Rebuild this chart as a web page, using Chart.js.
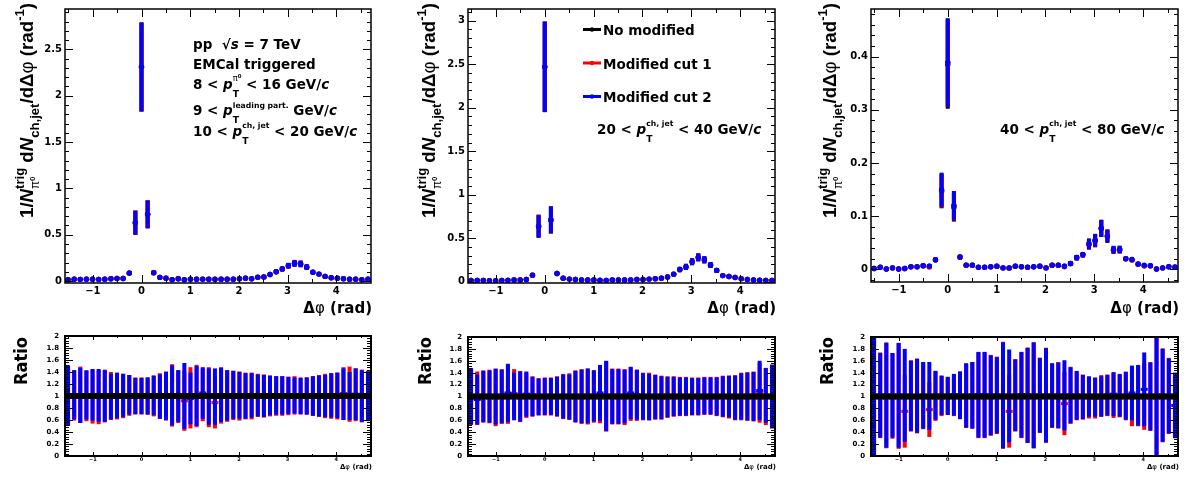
<!DOCTYPE html>
<html>
<head>
<meta charset="utf-8">
<script src="https://cdn.jsdelivr.net/npm/chart.js@4.4.0/dist/chart.umd.min.js"></script>
<style>
  html, body { margin: 0; padding: 0; background: #fff; }
  body { width: 1192px; height: 478px; position: relative; overflow: hidden; }
  canvas { position: absolute; }
</style>
</head>
<body>
<canvas id="t1"></canvas>
<canvas id="t2"></canvas>
<canvas id="t3"></canvas>
<canvas id="r1"></canvas>
<canvas id="r2"></canvas>
<canvas id="r3"></canvas>
<script>
// bin centres in delta phi (rad), 50 bins from -pi/2 to 3pi/2
const phi = [-1.508,-1.382,-1.257,-1.131,-1.005,-0.880,-0.754,-0.628,-0.503,-0.377,-0.251,-0.126,0.000,0.126,0.251,0.377,0.503,0.628,0.754,0.880,1.005,1.131,1.257,1.382,1.508,1.634,1.759,1.885,2.011,2.136,2.262,2.388,2.513,2.639,2.765,2.890,3.016,3.142,3.267,3.393,3.519,3.644,3.770,3.896,4.021,4.147,4.273,4.398,4.524,4.650];
const binHalf = 0.0628;

// tick labels
const xTicks = [-1, 0, 1, 2, 3, 4];
const yTicksTop1 = [0, 0.5, 1, 1.5, 2, 2.5];
const yTicksTop2 = [0, 0.5, 1, 1.5, 2, 2.5, 3];
const yTicksTop3 = [0, 0.1, 0.2, 0.3, 0.4];
const yTicksRatio = [0, 0.2, 0.4, 0.6, 0.8, 1, 1.2, 1.4, 1.6, 1.8, 2];

// 10 < pT jet < 20 : no modified (nominal) and stat errors
const nomP1 = [0.015,0.02,0.018,0.02,0.02,0.018,0.02,0.025,0.028,0.028,0.085,0.63,2.31,0.72,0.09,0.04,0.03,0.015,0.025,0.015,0.02,0.02,0.02,0.02,0.02,0.02,0.02,0.02,0.025,0.03,0.025,0.04,0.045,0.07,0.10,0.13,0.165,0.19,0.185,0.15,0.095,0.075,0.05,0.035,0.03,0.025,0.02,0.02,0.015,0.02];
const errP1 = [0.005,0.006,0.006,0.006,0.006,0.006,0.006,0.007,0.008,0.008,0.02,0.13,0.48,0.15,0.02,0.01,0.008,0.005,0.007,0.005,0.006,0.007,0.007,0.007,0.007,0.007,0.006,0.006,0.007,0.008,0.007,0.01,0.011,0.015,0.02,0.025,0.03,0.036,0.035,0.03,0.02,0.017,0.012,0.009,0.008,0.007,0.006,0.006,0.005,0.006];
// 20 < pT jet < 40
const nomP2 = [0.015,0.015,0.015,0.012,0.012,0.015,0.015,0.02,0.02,0.025,0.075,0.64,2.47,0.71,0.095,0.04,0.03,0.025,0.02,0.02,0.02,0.015,0.015,0.02,0.02,0.02,0.02,0.025,0.025,0.03,0.035,0.04,0.055,0.085,0.14,0.17,0.23,0.28,0.25,0.19,0.13,0.07,0.06,0.05,0.035,0.025,0.02,0.015,0.015,0.015];
const errP2 = [0.004,0.004,0.004,0.004,0.004,0.004,0.004,0.005,0.005,0.006,0.018,0.13,0.52,0.155,0.02,0.01,0.008,0.007,0.006,0.006,0.006,0.005,0.005,0.006,0.006,0.006,0.006,0.007,0.007,0.008,0.009,0.01,0.013,0.02,0.03,0.035,0.04,0.045,0.04,0.032,0.025,0.015,0.013,0.011,0.008,0.006,0.005,0.004,0.004,0.004];
// 40 < pT jet < 80
const nomP3 = [0.002,0.004,0.001,0.003,0.001,0.002,0.005,0.005,0.007,0.006,0.018,0.147,0.385,0.117,0.023,0.008,0.008,0.004,0.004,0.005,0.006,0.003,0.003,0.006,0.005,0.004,0.005,0.006,0.003,0.008,0.008,0.006,0.011,0.022,0.028,0.048,0.055,0.077,0.062,0.036,0.037,0.02,0.018,0.01,0.007,0.007,0.001,0.003,0.005,0.005];
const errP3 = [0.001,0.002,0.001,0.002,0.001,0.001,0.002,0.002,0.003,0.003,0.004,0.032,0.083,0.027,0.004,0.003,0.003,0.002,0.002,0.002,0.002,0.002,0.002,0.002,0.002,0.002,0.002,0.002,0.002,0.003,0.003,0.002,0.004,0.005,0.005,0.01,0.012,0.016,0.012,0.007,0.007,0.004,0.004,0.003,0.002,0.002,0.001,0.002,0.002,0.002];

// ratios to "No modified": cut 1 (red) and cut 2 (blue), value and error
const ratioNominal = [1,1,1,1,1,1,1,1,1,1,1,1,1,1,1,1,1,1,1,1,1,1,1,1,1,1,1,1,1,1,1,1,1,1,1,1,1,1,1,1,1,1,1,1,1,1,1,1,1,1];

const cut1P1 = [1.00,1.01,1.02,1.00,0.99,0.98,1.00,1.00,0.99,1.00,1.01,1.00,1.00,1.00,1.00,1.00,1.00,1.01,0.99,0.92,0.97,1.00,1.02,0.98,0.89,1.01,1.00,1.01,1.00,1.00,1.00,1.01,1.00,1.00,1.00,1.00,1.00,1.01,1.00,1.00,1.00,1.00,1.00,1.00,1.00,1.04,1.03,1.02,1.00,1.00];
const cut1ErrP1 = [0.50,0.42,0.47,0.42,0.45,0.45,0.44,0.40,0.38,0.37,0.34,0.31,0.31,0.31,0.34,0.38,0.41,0.52,0.44,0.50,0.51,0.52,0.44,0.50,0.43,0.47,0.43,0.41,0.41,0.39,0.39,0.36,0.36,0.34,0.33,0.33,0.32,0.32,0.31,0.31,0.33,0.35,0.37,0.38,0.39,0.44,0.46,0.44,0.44,0.42];
const cut2P1 = [1.01,1.02,1.01,1.02,1.02,1.01,1.00,0.99,1.01,1.01,1.02,1.00,1.00,1.00,1.01,0.99,1.00,1.01,1.00,1.00,0.96,1.00,1.05,0.99,0.99,1.02,1.01,1.02,1.01,1.00,1.01,1.01,1.00,1.01,1.01,1.01,1.01,1.01,1.00,1.00,1.00,1.00,1.00,1.01,1.01,1.03,1.00,1.03,1.00,1.00];
const cut2ErrP1 = [0.50,0.41,0.46,0.41,0.43,0.44,0.43,0.38,0.38,0.36,0.33,0.30,0.30,0.31,0.33,0.37,0.40,0.50,0.43,0.55,0.43,0.50,0.43,0.47,0.47,0.45,0.42,0.40,0.39,0.38,0.37,0.35,0.35,0.33,0.32,0.32,0.31,0.30,0.30,0.31,0.33,0.34,0.35,0.37,0.38,0.43,0.40,0.43,0.43,0.41];

const cut1P2 = [1.00,0.97,1.00,1.00,0.98,1.00,1.03,1.05,1.00,1.02,1.00,1.00,1.00,1.00,1.00,1.00,1.00,1.00,1.00,1.00,1.00,1.03,1.00,1.00,1.00,0.99,1.04,1.02,1.00,1.00,0.99,0.98,0.99,1.00,1.00,1.00,1.00,1.00,1.01,1.01,1.00,1.00,0.99,0.98,1.00,1.00,1.00,1.06,1.00,1.00];
const cut1ErrP2 = [0.48,0.45,0.44,0.45,0.48,0.46,0.49,0.41,0.43,0.38,0.34,0.31,0.32,0.32,0.34,0.38,0.39,0.44,0.46,0.47,0.44,0.48,0.59,0.47,0.47,0.47,0.45,0.43,0.40,0.40,0.38,0.37,0.35,0.34,0.33,0.33,0.32,0.32,0.32,0.32,0.33,0.35,0.36,0.38,0.40,0.41,0.42,0.50,0.48,0.54];
const cut2P2 = [1.00,0.95,1.00,1.00,1.00,1.00,1.06,1.00,1.00,1.04,1.00,0.99,1.00,1.00,1.00,1.00,0.99,1.00,1.00,1.01,1.01,1.06,1.01,1.00,1.00,1.00,1.06,1.03,1.00,0.99,0.99,0.98,0.99,1.00,1.00,1.00,1.00,1.00,1.01,1.01,1.00,1.00,1.00,0.98,1.00,1.00,1.00,1.10,1.02,1.00];
const cut2ErrP2 = [0.47,0.42,0.43,0.44,0.47,0.45,0.49,0.40,0.42,0.38,0.33,0.31,0.31,0.31,0.33,0.37,0.38,0.43,0.45,0.46,0.43,0.47,0.59,0.46,0.46,0.45,0.44,0.42,0.39,0.39,0.37,0.36,0.34,0.33,0.32,0.32,0.31,0.31,0.31,0.31,0.32,0.34,0.35,0.37,0.39,0.40,0.41,0.50,0.46,0.53];

const cut1P3 = [1.00,1.02,1.02,1.01,1.01,0.75,1.01,1.01,1.01,0.78,1.01,1.01,1.01,1.02,1.02,1.01,1.02,1.02,1.02,1.02,1.02,1.02,0.75,1.02,1.02,1.02,1.02,1.02,1.02,1.01,1.02,0.88,1.02,1.01,0.99,0.98,0.97,1.01,1.02,1.02,1.01,1.01,1.00,1.01,1.00,1.00,1.00,1.02,1.01,0.85];
const cut1ErrP3 = [1.15,0.72,0.89,0.72,0.89,0.61,0.60,0.63,0.56,0.46,0.42,0.34,0.32,0.35,0.40,0.54,0.56,0.72,0.72,0.68,0.65,0.90,0.61,0.61,0.72,0.80,0.89,0.63,0.80,0.54,0.56,0.53,0.48,0.41,0.38,0.35,0.34,0.35,0.35,0.38,0.36,0.41,0.50,0.51,0.56,0.58,1.20,0.79,0.64,0.55];
const cut2P3 = [1.00,1.02,1.02,1.02,1.02,1.02,1.01,1.01,1.02,1.01,1.02,1.02,1.01,1.03,1.02,1.02,1.02,1.03,1.03,1.02,1.02,1.02,1.01,1.02,1.03,1.02,1.02,1.02,1.02,1.02,1.02,1.02,1.02,1.02,0.99,1.00,0.99,1.00,1.02,1.04,1.02,1.01,1.06,1.02,1.12,1.00,1.00,1.02,1.01,0.85];
const cut2ErrP3 = [1.15,0.71,0.88,0.71,0.88,0.78,0.59,0.62,0.56,0.57,0.41,0.33,0.32,0.35,0.40,0.54,0.56,0.72,0.72,0.67,0.64,0.89,0.78,0.60,0.72,0.80,0.89,0.63,0.79,0.54,0.55,0.59,0.47,0.41,0.37,0.34,0.33,0.34,0.34,0.37,0.36,0.40,0.46,0.51,0.62,0.57,1.20,0.78,0.63,0.55];

const seriesNames = ['No modified', 'Modified cut 1', 'Modified cut 2'];

const BLUE = '#0000ff', RED = '#ff0000', BLACK = '#000000';
const FAM = 'DejaVu Sans';

function fmt(v) { return String(+v.toFixed(2)).replace('-', '\u2212'); }

function steps(step, min, max) {
  const out = [];
  for (let k = Math.ceil(min / step - 1e-9); k * step <= max + 1e-9; k++) out.push(k * step);
  return out;
}

// rich text: runs of {t, k (size factor), dy (em), it, nb (not bold), f}, or {stack:[run, run]}
function drawRun(ctx, run, x, y, base, fam, draw) {
  let cx = x;
  for (const s of run) {
    if (s.stack) {
      let w = 0;
      for (const r of s.stack) w = Math.max(w, drawRun(ctx, r, cx, y, base, fam, draw));
      cx += w;
      continue;
    }
    const size = base * (s.k || 1);
    ctx.font = (s.it ? 'italic ' : '') + (s.nb ? '' : 'bold ') + size + 'px "' + (s.f || fam) + '"';
    if (draw) ctx.fillText(s.t, cx, y + base * (s.dy || 0));
    cx += ctx.measureText(s.t).width;
  }
  return cx - x;
}

// error bars, drawn just under each dataset's markers
const errorBars = {
  id: 'errorBars',
  beforeDatasetDraw(chart, args) {
    const ds = chart.data.datasets[args.index];
    const { ctx, chartArea: a, scales: { x, y } } = chart;
    ctx.save();
    ctx.beginPath();
    ctx.rect(a.left, a.top, a.right - a.left, a.bottom - a.top);
    ctx.clip();
    ctx.strokeStyle = ds.barColor;
    ds.data.forEach((pt, i) => {
      const px = x.getPixelForValue(pt.x);
      if (ds.yErr) {
        ctx.lineWidth = ds.barWidth;
        ctx.beginPath();
        ctx.moveTo(px, y.getPixelForValue(pt.y - ds.yErr[i]));
        ctx.lineTo(px, y.getPixelForValue(pt.y + ds.yErr[i]));
        ctx.stroke();
      }
      if (ds.xHalf) {
        ctx.lineWidth = ds.bandWidth;
        ctx.beginPath();
        ctx.moveTo(x.getPixelForValue(pt.x - ds.xHalf) - 0.5, y.getPixelForValue(pt.y));
        ctx.lineTo(x.getPixelForValue(pt.x + ds.xHalf) + 0.5, y.getPixelForValue(pt.y));
        ctx.stroke();
      }
    });
    ctx.restore();
  }
};

// ROOT-like frame with inward ticks on all four sides
function framePlugin(o) {
  return {
    id: 'rootFrame',
    afterDatasetsDraw(chart) {
      const { ctx, chartArea: a, scales: { x, y } } = chart;
      ctx.save();
      ctx.strokeStyle = '#000';
      ctx.lineWidth = o.lw;
      ctx.strokeRect(a.left, a.top, a.right - a.left, a.bottom - a.top);
      ctx.lineWidth = 1;
      ctx.beginPath();
      const xs = steps(o.xMinor, x.min, x.max).map(v => [v, xTicks.some(t => Math.abs(t - v) < 1e-6) ? o.xMajLen : o.xMinLen]);
      xs.forEach(([v, len]) => {
        const px = Math.round(x.getPixelForValue(v)) + 0.5;
        ctx.moveTo(px, a.bottom); ctx.lineTo(px, a.bottom - len);
        ctx.moveTo(px, a.top); ctx.lineTo(px, a.top + len);
      });
      const ys = steps(o.yMinor, y.min, y.max).map(v => [v, o.yMaj.some(t => Math.abs(t - v) < 1e-6) ? o.yMajLen : o.yMinLen]);
      ys.forEach(([v, len]) => {
        const py = Math.round(y.getPixelForValue(v)) + 0.5;
        ctx.moveTo(a.left, py); ctx.lineTo(a.left + len, py);
        ctx.moveTo(a.right, py); ctx.lineTo(a.right - len, py);
      });
      ctx.stroke();
      ctx.restore();
    }
  };
}

function decorPlugin(p) {
  return {
    id: 'decor',
    afterDraw(chart) {
      const ctx = chart.ctx;
      ctx.save();
      ctx.translate(-p.cx, -p.cy);
      ctx.fillStyle = '#000';
      ctx.textBaseline = 'alphabetic';
      ctx.textAlign = 'left';
      p.draw(ctx);
      ctx.restore();
    }
  };
}

function makeChart(p) {
  const cv = document.getElementById(p.id);
  cv.width = p.cw; cv.height = p.ch;
  cv.style.left = p.cx + 'px'; cv.style.top = p.cy + 'px';
  const [L, R, T, B] = p.frame;
  return new Chart(cv, {
    type: 'scatter',
    data: { datasets: p.datasets },
    options: {
      responsive: false,
      animation: false,
      events: [],
      layout: { autoPadding: false, padding: { left: 0, top: T - p.cy, right: p.cx + p.cw - R, bottom: 0 } },
      plugins: { legend: { display: false }, tooltip: { enabled: false } },
      scales: {
        x: {
          type: 'linear', min: -1.5708, max: 4.7124,
          grid: { display: false, drawTicks: false }, border: { display: false },
          afterBuildTicks: a => { a.ticks = xTicks.map(v => ({ value: v })); },
          afterFit: a => { a.height = p.cy + p.ch - B; },
          ticks: { padding: p.xPad, color: '#000', font: { family: FAM, weight: 'bold', size: p.xFont }, callback: v => fmt(v), maxRotation: 0, autoSkip: false }
        },
        y: {
          type: 'linear', min: p.yMin, max: p.yMax,
          grid: { display: false, drawTicks: false }, border: { display: false },
          afterBuildTicks: a => { a.ticks = p.yTicks.map(v => ({ value: v })); },
          afterFit: a => { a.width = L - p.cx; },
          ticks: { padding: p.yPad, color: '#000', font: { family: FAM, weight: 'bold', size: p.yFont }, callback: v => fmt(v), autoSkip: false }
        }
      }
    },
    plugins: [errorBars, framePlugin(p.frameOpts), decorPlugin(p)]
  });
}

function pointSet(label, vals, err, color, radius, style) {
  return {
    label, data: phi.map((x, i) => ({ x, y: vals[i] })), yErr: err,
    barColor: color, barWidth: 4,
    pointRadius: radius, pointStyle: style || 'circle',
    backgroundColor: color, borderColor: color,
    pointBorderWidth: style === 'line' ? 3 : 0, showLine: false
  };
}

function topSets(nom, err, c1, c2) {
  const scaled = r => nom.map((v, i) => v * r[i]);
  return [
    pointSet(seriesNames[2], scaled(c2), err, BLUE, 2.7),
    pointSet(seriesNames[1], scaled(c1), err, RED, 2.7),
    pointSet(seriesNames[0], nom, err, BLACK, 2.7)
  ];
}

function ratioSets(c1, e1, c2, e2) {
  const band = pointSet(seriesNames[0], ratioNominal, null, BLACK, 0);
  band.xHalf = binHalf; band.bandWidth = 6;
  return [
    band,
    pointSet(seriesNames[2], c2, e2, BLUE, 3.5, 'line'),
    pointSet(seriesNames[1], c1, e1, RED, 3.5, 'line')
  ];
}

// y title 1/N^trig_pi0 dN_ch,jet/dDphi (rad^-1)
const yTitle = [
  { t: '1/' }, { t: 'N', it: 1 },
  { stack: [[{ t: 'trig', k: 0.7, dy: -0.45 }], [{ t: '\u03c0', k: 0.62, dy: 0.32, nb: 1 }, { t: '0', k: 0.42, dy: 0.08 }]] },
  { t: ' d' }, { t: 'N', it: 1 }, { t: 'ch,jet', k: 0.7, dy: 0.3 },
  { t: '/d\u0394' }, { t: '\u03c6', nb: 1 }, { t: ' (rad' }, { t: '-1', k: 0.7, dy: -0.45 }, { t: ')' }
];

function drawYTitle(ctx, bx, topY, len) {
  const base = 16, fam = 'Liberation Sans';
  const w = drawRun(ctx, yTitle, 0, 0, base, fam, false);
  ctx.save();
  ctx.translate(bx, topY + len);
  ctx.rotate(-Math.PI / 2);
  ctx.scale(len / w, 1.2);
  drawRun(ctx, yTitle, 0, 0, base, fam, true);
  ctx.restore();
}

function drawXTitle(ctx, right, baseY, size) {
  const run = [{ t: '\u0394' }, { t: '\u03c6', nb: 1 }, { t: ' (rad)' }];
  const w = drawRun(ctx, run, 0, 0, size, FAM, false);
  drawRun(ctx, run, right - w, baseY, size, FAM, true);
}

function drawRatioLabel(ctx, bx, cy) {
  const run = [{ t: 'Ratio' }];
  const w = drawRun(ctx, run, 0, 0, 17, FAM, false);
  ctx.save();
  ctx.translate(bx, cy + 24);
  ctx.rotate(-Math.PI / 2);
  ctx.scale(48 / w, 1.05);
  drawRun(ctx, run, 0, 0, 17, FAM, true);
  ctx.restore();
}

const ANN = 13.5;
const pT = (sup) => [{ t: 'p', it: 1 }, { stack: [sup, [{ t: 'T', k: 0.68, dy: 0.6 }]] }];
const supJet = [{ t: 'ch, jet', k: 0.57, dy: -0.6 }];

function jetRange(lo, hi) {
  return [{ t: lo + ' < ' }, ...pT(supJet), { t: ' < ' + hi + ' GeV/' }, { t: 'c', it: 1 }];
}

const annP1 = [
  [{ t: 'pp  \u221a' }, { t: 's', it: 1 }, { t: ' = 7 TeV' }],
  [{ t: 'EMCal triggered' }],
  [{ t: '8 < ' }, ...pT([{ t: '\u03c0', k: 0.6, dy: -0.6, nb: 1 }, { t: '0', k: 0.4, dy: -0.85 }]), { t: ' < 16 GeV/' }, { t: 'c', it: 1 }],
  [{ t: '9 < ' }, ...pT([{ t: 'leading part.', k: 0.57, dy: -0.5 }]), { t: ' GeV/' }, { t: 'c', it: 1 }],
  jetRange(10, 20)
];
const annBase = [49, 69, 89, 115, 136];

const frameTop = (yMaj, yMinor) => ({ lw: 1.5, xMinor: 0.5, xMajLen: 8, xMinLen: 4, yMaj, yMinor, yMajLen: 8, yMinLen: 4 });
const frameRatio = { lw: 2, xMinor: 0.5, xMajLen: 4, xMinLen: 2, yMaj: yTicksRatio, yMinor: 0.04, yMajLen: 8, yMinLen: 4 };

const panels = [
  { id: 't1', cx: 0, cy: 0, cw: 400, ch: 320, frame: [65, 371, 5, 283], yMin: -0.021, yMax: 2.936, yTicks: yTicksTop1,
    xPad: 2, yPad: 3, xFont: 10, yFont: 10, frameOpts: frameTop(yTicksTop1, 0.1),
    datasets: topSets(nomP1, errP1, cut1P1, cut2P1),
    draw: ctx => {
      drawYTitle(ctx, 33, 3, 215);
      drawXTitle(ctx, 372, 313, 15);
      annP1.forEach((run, i) => drawRun(ctx, run, 193, annBase[i], ANN, FAM, true));
    } },
  { id: 't2', cx: 400, cy: 0, cw: 400, ch: 320, frame: [468, 775, 5, 283], yMin: -0.015, yMax: 3.135, yTicks: yTicksTop2,
    xPad: 2, yPad: 3, xFont: 10, yFont: 10, frameOpts: frameTop(yTicksTop2, 0.1),
    datasets: topSets(nomP2, errP2, cut1P2, cut2P2),
    draw: ctx => {
      drawYTitle(ctx, 435, 3, 215);
      drawXTitle(ctx, 776, 313, 15);
      const colors = [BLACK, RED, BLUE];
      const rows = [29.5, 63, 96.5];
      seriesNames.forEach((name, i) => {
        ctx.strokeStyle = colors[i]; ctx.fillStyle = colors[i]; ctx.lineWidth = 3;
        ctx.beginPath(); ctx.moveTo(583, rows[i]); ctx.lineTo(601, rows[i]); ctx.stroke();
        ctx.beginPath(); ctx.arc(592, rows[i], 2.2, 0, 2 * Math.PI); ctx.fill();
        ctx.fillStyle = '#000';
        drawRun(ctx, [{ t: name }], 603, rows[i] + 5.5, ANN, FAM, true);
      });
      drawRun(ctx, jetRange(20, 40), 597, 134, ANN, FAM, true);
    } },
  { id: 't3', cx: 800, cy: 0, cw: 392, ch: 320, frame: [871, 1178, 5, 282], yMin: -0.0235, yMax: 0.4894, yTicks: yTicksTop3,
    xPad: 2, yPad: 3, xFont: 10, yFont: 10, frameOpts: frameTop(yTicksTop3, 0.02),
    datasets: topSets(nomP3, errP3, cut1P3, cut2P3),
    draw: ctx => {
      drawYTitle(ctx, 836, 3, 215);
      drawXTitle(ctx, 1179, 313, 15);
      drawRun(ctx, jetRange(40, 80), 1000, 134, ANN, FAM, true);
    } },
  { id: 'r1', cx: 0, cy: 320, cw: 400, ch: 158, frame: [65, 371, 336, 456], yMin: 0, yMax: 2, yTicks: yTicksRatio,
    xPad: 1, yPad: 6, xFont: 5, yFont: 7, frameOpts: frameRatio,
    datasets: ratioSets(cut1P1, cut1ErrP1, cut2P1, cut2ErrP1),
    draw: ctx => { drawRatioLabel(ctx, 27, 361); drawXTitle(ctx, 372, 469, 7); } },
  { id: 'r2', cx: 400, cy: 320, cw: 400, ch: 158, frame: [468, 775, 337, 456], yMin: 0, yMax: 2, yTicks: yTicksRatio,
    xPad: 1, yPad: 6, xFont: 5, yFont: 7, frameOpts: frameRatio,
    datasets: ratioSets(cut1P2, cut1ErrP2, cut2P2, cut2ErrP2),
    draw: ctx => { drawRatioLabel(ctx, 431, 361); drawXTitle(ctx, 776, 469, 7); } },
  { id: 'r3', cx: 800, cy: 320, cw: 392, ch: 158, frame: [871, 1178, 337, 456], yMin: 0, yMax: 2, yTicks: yTicksRatio,
    xPad: 1, yPad: 6, xFont: 5, yFont: 7, frameOpts: frameRatio,
    datasets: ratioSets(cut1P3, cut1ErrP3, cut2P3, cut2ErrP3),
    draw: ctx => { drawRatioLabel(ctx, 833, 361); drawXTitle(ctx, 1179, 469, 7); } }
];

panels.forEach(makeChart);
</script>
</body>
</html>
